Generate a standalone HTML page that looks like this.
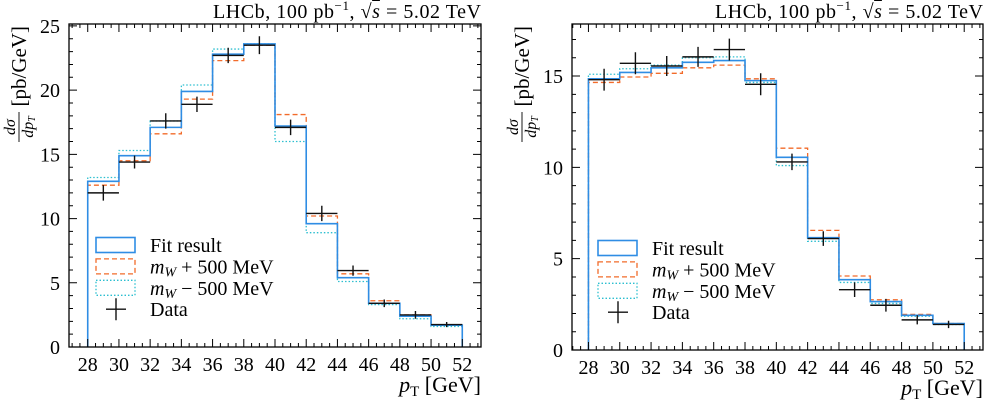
<!DOCTYPE html>
<html><head><meta charset="utf-8"><style>
html,body{margin:0;padding:0;background:#fff}
svg{display:block;font-family:"Liberation Serif",serif}
</style></head><body>
<svg id="c" width="1000" height="406" viewBox="0 0 1000 406"></svg>
<script>
const edges=[28,30,32,34,36,38,40,42,44,46,48,50,52];
const xTicks=[28,30,32,34,36,38,40,42,44,46,48,50,52];
const leftFit=[12.9,14.9,17.1,19.9,22.8,23.6,17.2,9.6,5.4,3.4,2.4,1.7];
const leftPlus=[12.6,14.5,16.6,19.3,22.3,23.5,18.1,10.2,5.7,3.6,2.5,1.7];
const leftMinus=[13.2,15.3,17.6,20.4,23.2,23.6,16.0,8.9,5.1,3.3,2.2,1.6];
const leftData=[12.0,14.4,17.6,18.9,22.7,23.5,17.1,10.4,5.95,3.4,2.5,1.75];
const leftErr=[0.6,0.5,0.6,0.6,0.6,0.7,0.6,0.6,0.4,0.3,0.3,0.2];
const leftYTicks=[0,5,10,15,20,25];
const rightFit=[14.85,15.2,15.45,15.75,15.85,14.75,10.55,6.15,3.85,2.65,1.9,1.45];
const rightPlus=[14.65,14.95,15.15,15.45,15.6,14.85,11.05,6.55,4.05,2.75,1.95,1.45];
const rightMinus=[15.1,15.4,15.6,16.0,16.05,14.65,10.1,5.95,3.7,2.55,1.85,1.4];
const rightData=[14.8,15.7,15.55,16.05,16.45,14.55,10.3,6.1,3.3,2.45,1.65,1.4];
const rightErr=[0.6,0.6,0.55,0.55,0.6,0.6,0.45,0.4,0.4,0.35,0.25,0.2];
const rightYTicks=[0,5,10,15];
const legendLabels=["Fit result","+ 500 MeV","\u2212 500 MeV","Data"];

const NS="http://www.w3.org/2000/svg";
const svg=document.getElementById('c');
function mk(tag,attrs,parent){const e=document.createElementNS(NS,tag);for(const k in attrs)e.setAttribute(k,attrs[k]);(parent||svg).appendChild(e);return e;}

function panel(id,box,xlim,ylim,fit,plus,minus,data,err,yTicks,leg){
  const g=mk('g',{});
  
  
  const X=v=>box.x0+(v-xlim[0])/(xlim[1]-xlim[0])*(box.x1-box.x0);
  const Y=v=>box.y1-(v-ylim[0])/(ylim[1]-ylim[0])*(box.y1-box.y0);
  function step(vals,color,dash,w,name){
    let d='M'+X(edges[0])+','+Y(0);
    vals.forEach((v,i)=>{d+=' L'+X(edges[i])+','+Y(v)+' L'+X(edges[i+1])+','+Y(v);});
    d+=' L'+X(edges[edges.length-1])+','+Y(0);
    const p=mk('path',{d:d,fill:'none',stroke:color,'stroke-width':w,'stroke-dasharray':dash},g);
    
    
  }
  step(minus,'#2cbfd0','1.5,2',1.3,id+'-minus-series');
  step(plus,'#f26b2a','5,3',1.3,id+'-plus-series');
  step(fit,'#2f8de4','',1.6,id+'-fit-series');
  data.forEach((v,i)=>{
    const xc=(edges[i]+edges[i+1])/2;
    const e=mk('path',{d:'M'+X(edges[i])+','+Y(v)+' H'+X(edges[i+1])+' M'+X(xc)+','+Y(v-err[i])+' V'+Y(v+err[i]),stroke:'#111','stroke-width':1.4,fill:'none'},g);
    
    
  });
  const f=mk('rect',{x:box.x0,y:box.y0,width:box.x1-box.x0,height:box.y1-box.y0,fill:'none',stroke:'#000','stroke-width':1.3},g);
  
  
  let td='';
  for(let v=Math.ceil(xlim[0]*2)/2;v<=xlim[1];v+=0.5){
    const maj=Math.abs(v/2-Math.round(v/2))<1e-6;const L=maj?8:4;const x=X(v);
    td+='M'+x+','+box.y1+' v'+(-L)+' M'+x+','+box.y0+' v'+L;
  }
  for(let v=ylim[0];v<=ylim[1]+1e-6;v+=1){
    const maj=v%5===0;const L=maj?8:4;const y=Y(v);
    td+='M'+box.x0+','+y+' h'+L+' M'+box.x1+','+y+' h'+(-L);
  }
  const t=mk('path',{d:td,stroke:'#000','stroke-width':1,fill:'none'},g);
  
  
  xTicks.forEach(v=>{
    const tx=mk('text',{x:X(v),y:box.y1+24,'text-anchor':'middle','font-size':20},g);tx.textContent=v;
    
    
  });
  yTicks.forEach(v=>{
    const tx=mk('text',{x:box.x0-9,y:Y(v)+7,'text-anchor':'end','font-size':20},g);tx.textContent=v;
    
    
  });
  const xt=mk('text',{x:box.x1,y:box.y1+45,'text-anchor':'end','font-size':22},g);
  xt.innerHTML='<tspan font-style="italic">p</tspan><tspan font-size="15" dy="4">T</tspan><tspan dy="-4"> [GeV]</tspan>';
  
  
  const yt=mk('g',{transform:'translate('+(box.x0-50)+','+(box.y0+2)+') rotate(-90)'},g);
  
  
  const c=mk('text',{x:0,y:7,'font-size':21,'text-anchor':'end'},yt);c.textContent='[pb/GeV]';
  const a=mk('text',{x:-101,y:-4,'font-size':16,'font-style':'italic','text-anchor':'middle'},yt);a.textContent='dσ';
  mk('line',{x1:-116,x2:-86,y1:0,y2:0,stroke:'#000','stroke-width':0.9},yt);
  const b=mk('text',{x:-101,y:14,'font-size':16,'font-style':'italic','text-anchor':'middle'},yt);b.innerHTML='dp<tspan font-size="10" dy="2">T</tspan>';
  const tt=mk('text',{x:box.x1,y:18,'text-anchor':'end','font-size':20,textLength:268,lengthAdjust:'spacing'},g);
  tt.innerHTML='LHCb, 100 pb<tspan font-size="13" dy="-8">−1</tspan><tspan dy="8">, √</tspan><tspan text-decoration="overline" font-style="italic">s</tspan> = 5.02 TeV';
  
  
  const lg=mk('g',{},g);
  
  
  const styles=[['#2f8de4','',1.6],['#f26b2a','5,3',1.3],['#2cbfd0','1.5,2',1.3]];
  for(let i=0;i<4;i++){
    const ry=leg.y+i*21.4;
    const e=mk('g',{},lg);
    
    
    if(i<3){mk('rect',{x:leg.x,y:ry-7.5,width:39,height:15,fill:'none',stroke:styles[i][0],'stroke-dasharray':styles[i][1],'stroke-width':styles[i][2]},e);}
    else{mk('path',{d:'M'+(leg.x+10)+','+ry+' h20 M'+(leg.x+20)+','+(ry-11)+' v22',stroke:'#111','stroke-width':1.4},e);}
    const tx=mk('text',{x:leg.x+54,y:ry+7,'font-size':20},e);
    if(i===1||i===2)tx.innerHTML='<tspan font-style="italic">m</tspan><tspan font-style="italic" font-size="14" dy="3">W</tspan><tspan dy="-3"> '+legendLabels[i]+'</tspan>';
    else tx.textContent=legendLabels[i];
  }
}
panel('left',{x0:69,x1:481,y0:24,y1:347},[26.8,53.2],[0,25.15],leftFit,leftPlus,leftMinus,leftData,leftErr,leftYTicks,{x:96,y:245});
panel('right',{x0:572,x1:983,y0:24,y1:350},[26.95,53.2],[0,17.85],rightFit,rightPlus,rightMinus,rightData,rightErr,rightYTicks,{x:598,y:248});
</script>
</body></html>
